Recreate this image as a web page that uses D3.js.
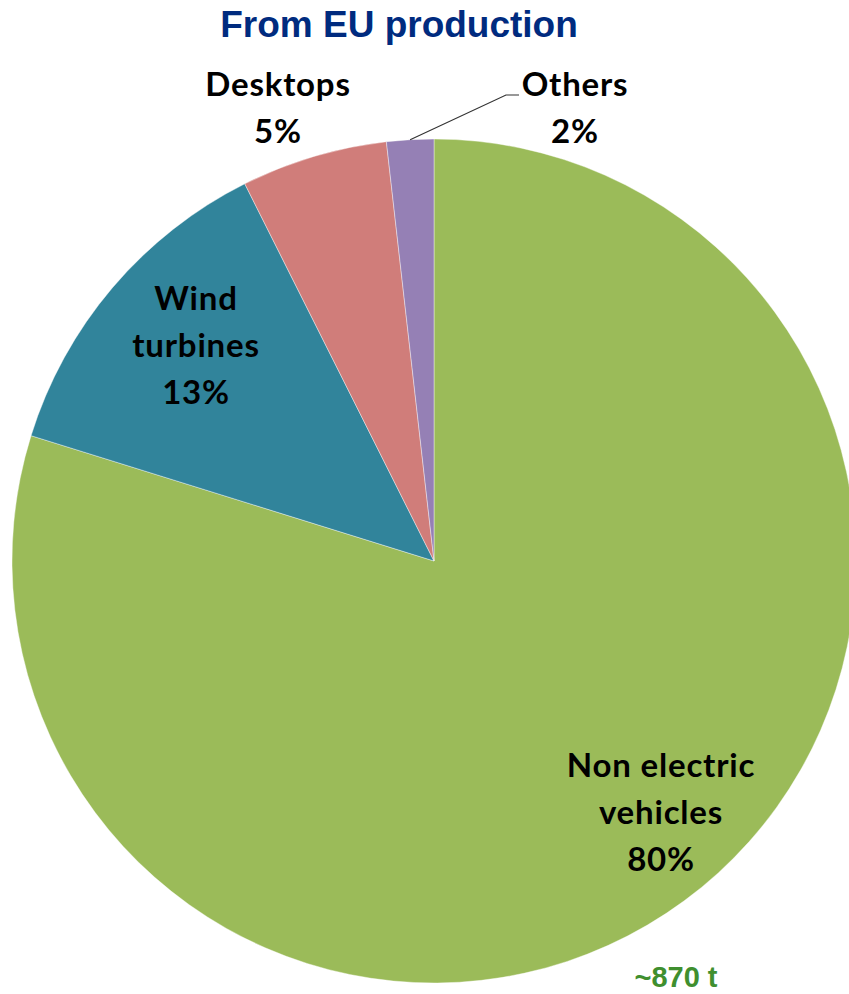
<!DOCTYPE html>
<html><head><meta charset="utf-8">
<script src="https://cdn.jsdelivr.net/npm/d3@7"></script>
<style>body{margin:0;background:#fff;overflow:hidden}</style>
</head><body>
<svg id="c" width="849" height="994"></svg>
<script>
const categories = ["Non electric vehicles", "Wind turbines", "Desktops", "Others"];
const shares = [79.8, 12.8, 5.6, 1.8];
const labelLines = [["Non electric", "vehicles", "80%"], ["Wind", "turbines", "13%"], ["Desktops", "5%"], ["Others", "2%"]];
const colors = ["#9bbb59", "#31849b", "#d07d7a", "#9580b5"];
const title = "From EU production";
const totalNote = "~870 t";

const svg = d3.select("#c");
const cx = 434, cy = 561, r = 422;
const data = categories.map((c, i) => ({c, v: shares[i], lines: labelLines[i], col: colors[i]}));
const pie = d3.pie().value(d => d.v).sort(null);
const arcs = pie(data);
const arc = d3.arc().innerRadius(0).outerRadius(r);
const g = svg.append("g").attr("transform", `translate(${cx},${cy})`);
g.selectAll("path").data(arcs).join("path").attr("d", arc).attr("fill", d => d.data.col)
  .attr("stroke", "#fff").attr("stroke-width", 0.4);

svg.append("text").attr("x", 399).attr("y", 37).attr("text-anchor", "middle")
  .attr("font-family", "Liberation Sans, Arial, sans-serif").attr("font-weight", "bold")
  .attr("font-size", 37).attr("fill", "#002b7f").text(title);

const labelPos = [[661, 765], [196, 298], [278, 84], [575, 84]];
const lh = 47;
data.forEach((d, i) => {
  const t = svg.append("text").attr("text-anchor", "middle")
    .attr("font-family", "Lato, 'Open Sans', sans-serif").attr("font-weight", "bold")
    .attr("font-size", 33).attr("letter-spacing", 0.8).attr("fill", "#000");
  d.lines.forEach((l, j) => t.append("tspan").attr("x", labelPos[i][0])
    .attr("y", labelPos[i][1] + j * lh).attr("dy", "0.35em").text(l));
});

// leader line for Others
const oa = arcs[3];
const mid = (oa.startAngle + oa.endAngle) / 2;
const px = cx + Math.sin(mid) * r, py = cy - Math.cos(mid) * r;
svg.append("polyline").attr("points", `${px},${py} 506,95 519,95`)
  .attr("fill", "none").attr("stroke", "#333").attr("stroke-width", 1.2);

svg.append("text").attr("x", 676).attr("y", 987).attr("text-anchor", "middle")
  .attr("font-family", "Liberation Sans, Arial, sans-serif").attr("font-weight", "bold")
  .attr("font-size", 29).attr("fill", "#3f8f2f").text(totalNote);
</script>
</body></html>
